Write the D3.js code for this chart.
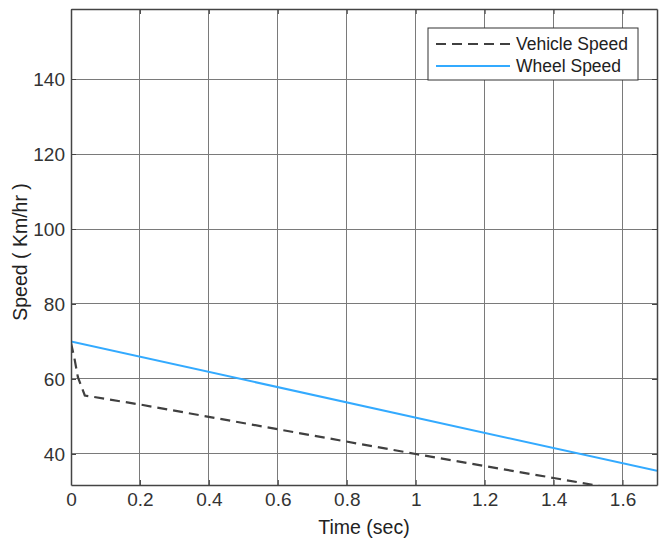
<!DOCTYPE html>
<html>
<head>
<meta charset="utf-8">
<script src="https://cdn.jsdelivr.net/npm/d3@7"></script>
<style>
  body { margin: 0; background: #fff; }
  text { font-family: "Liberation Sans", Arial, sans-serif; }
</style>
</head>
<body>
<script>
// data
var vehicleTime  = [0, 0.01, 0.02, 0.04, 0.2, 0.6, 1.0, 1.4, 1.7];
var vehicleSpeed = [69.6, 65.5, 60.5, 55.6, 53.2, 46.6, 40.0, 33.6, 28.8];
var wheelTime  = [0, 1.7];
var wheelSpeed = [70, 35.5];
var xTicks = [0, 0.2, 0.4, 0.6, 0.8, 1, 1.2, 1.4, 1.6];
var yTicks = [40, 60, 80, 100, 120, 140];

var W = 668, H = 543;
var m = {left: 71, top: 9, right: 11, bottom: 58};
var iw = W - m.left - m.right, ih = H - m.top - m.bottom;

var svg = d3.select('body').append('svg')
  .attr('width', W).attr('height', H);

var x = d3.scaleLinear().domain([0, 1.7]).range([0, iw]);
var y = d3.scaleLinear().domain([31.73, 158.67]).range([ih, 0]);

var g = svg.append('g').attr('transform', 'translate(' + m.left + ',' + m.top + ')');

// grid
g.selectAll('.gx').data(xTicks).enter().append('line')
  .attr('x1', function (d) { return x(d); }).attr('x2', function (d) { return x(d); })
  .attr('y1', 0).attr('y2', ih)
  .attr('stroke', '#7a7a7a').attr('stroke-width', 1).attr('shape-rendering', 'crispEdges');
g.selectAll('.gy').data(yTicks).enter().append('line')
  .attr('y1', function (d) { return y(d); }).attr('y2', function (d) { return y(d); })
  .attr('x1', 0).attr('x2', iw)
  .attr('stroke', '#7a7a7a').attr('stroke-width', 1).attr('shape-rendering', 'crispEdges');

// clip
svg.append('defs').append('clipPath').attr('id', 'clip')
  .append('rect').attr('width', iw).attr('height', ih);

var line = d3.line()
  .x(function (d) { return x(d[0]); })
  .y(function (d) { return y(d[1]); });

var plot = g.append('g').attr('clip-path', 'url(#clip)');
plot.append('path')
  .datum(wheelTime.map(function (t, i) { return [t, wheelSpeed[i]]; }))
  .attr('d', line).attr('fill', 'none')
  .attr('stroke', '#33aaff').attr('stroke-width', 2);
plot.append('path')
  .datum(vehicleTime.map(function (t, i) { return [t, vehicleSpeed[i]]; }))
  .attr('d', line).attr('fill', 'none')
  .attr('stroke', '#404040').attr('stroke-width', 2.2)
  .attr('stroke-dasharray', '10,6');

// axes (MATLAB style box, ticks inward)
var xAxis = d3.axisBottom(x).tickValues(xTicks).tickSizeInner(-5).tickSizeOuter(0)
  .tickPadding(8).tickFormat(function (d) { return d; });
var yAxis = d3.axisLeft(y).tickValues(yTicks).tickSizeInner(-5).tickSizeOuter(0)
  .tickPadding(6);
var ax = g.append('g').attr('transform', 'translate(0,' + ih + ')').call(xAxis);
var ay = g.append('g').call(yAxis);
var axTop = g.append('g').call(d3.axisTop(x).tickValues(xTicks).tickSizeInner(-5).tickSizeOuter(0).tickFormat(''));
var ayR = g.append('g').attr('transform', 'translate(' + iw + ',0)')
  .call(d3.axisRight(y).tickValues(yTicks).tickSizeInner(-5).tickSizeOuter(0).tickFormat(''));
[ax, ay, axTop, ayR].forEach(function (a) {
  a.attr('font-size', 19).attr('font-family', '"Liberation Sans", Arial, sans-serif');
  a.select('.domain').attr('stroke', '#444').attr('stroke-width', 1.5);
  a.selectAll('.tick line').attr('stroke', '#444');
  a.selectAll('.tick text').style('font-size', '19px').attr('fill', '#333');
});

// axis labels
svg.append('text').attr('x', 364).attr('y', 534)
  .attr('text-anchor', 'middle').attr('font-size', '19.5px').attr('fill', '#222')
  .text('Time (sec)');
svg.append('text').attr('transform', 'translate(27,252) rotate(-90)')
  .attr('text-anchor', 'middle').attr('font-size', '19.5px').attr('fill', '#222')
  .text('Speed ( Km/hr )');

// legend
var lg = svg.append('g').attr('transform', 'translate(428,28)');
lg.append('rect').attr('width', 210).attr('height', 52)
  .attr('fill', '#fff').attr('stroke', '#333').attr('stroke-width', 1);
var legendItems = [
  {name: 'Vehicle Speed', color: '#404040', dash: '10,6'},
  {name: 'Wheel Speed', color: '#33aaff', dash: null}
];
legendItems.forEach(function (d, i) {
  var yy = 16 + i * 22;
  lg.append('line').attr('x1', 8).attr('x2', 82).attr('y1', yy).attr('y2', yy)
    .attr('stroke', d.color).attr('stroke-width', 2).attr('stroke-dasharray', d.dash);
  lg.append('text').attr('x', 88).attr('y', yy + 6).attr('font-size', '17.5px')
    .attr('fill', '#222').text(d.name);
});
</script>
</body>
</html>
